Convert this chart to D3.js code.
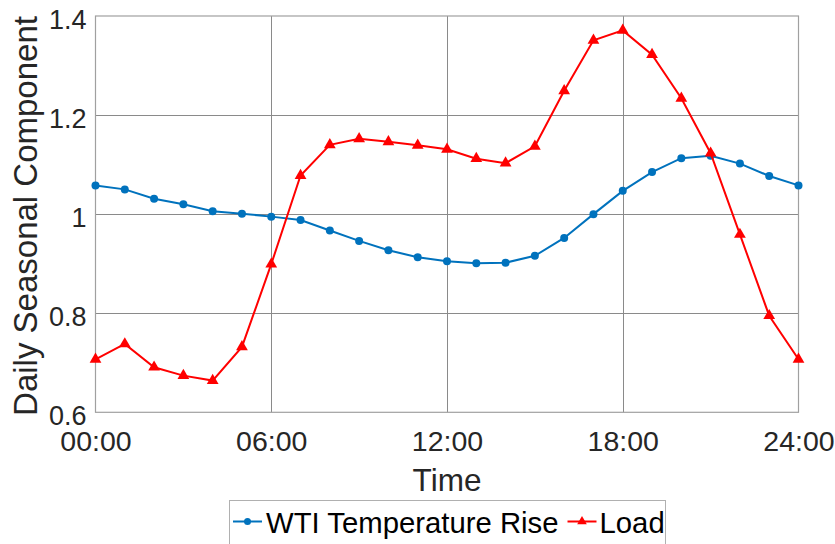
<!DOCTYPE html>
<html>
<head>
<meta charset="utf-8">
<script src="https://cdn.jsdelivr.net/npm/d3@7"></script>
<style>
  html, body { margin: 0; padding: 0; background: #fff; }
  svg { display: block; font-family: "Liberation Sans", Arial, Helvetica, sans-serif; }
</style>
</head>
<body>
<svg id="chart" width="835" height="544"></svg>
<script>
// Hour of day for each sample (0..24)
const hours = d3.range(0, 25);

// Daily seasonal component of the WTI temperature rise
const wtiValues = [1.058, 1.050, 1.031, 1.020, 1.006, 1.001, 0.995, 0.988, 0.967, 0.946,
                   0.927, 0.913, 0.905, 0.901, 0.902, 0.916, 0.952, 1.000, 1.047, 1.085,
                   1.113, 1.118, 1.102, 1.077, 1.058];

// Daily seasonal component of the load
const loadValues = [0.707, 0.738, 0.691, 0.674, 0.664, 0.732, 0.899, 1.078, 1.140, 1.152,
                    1.146, 1.139, 1.131, 1.112, 1.103, 1.137, 1.249, 1.351, 1.371, 1.322,
                    1.234, 1.123, 0.959, 0.795, 0.707];

const xTickValues = [0, 6, 12, 18, 24];
const xTickLabels = ["00:00", "06:00", "12:00", "18:00", "24:00"];
const yTickValues = [0.6, 0.8, 1.0, 1.2, 1.4];
const yTickLabels = ["0.6", "0.8", "1", "1.2", "1.4"];

const seriesNames = ["WTI Temperature Rise", "Load"];
const seriesColors = ["#0072BD", "#FF0000"];

const svg = d3.select("#chart");
const plot = { left: 95.5, right: 798.5, top: 16, bottom: 412.3 };

const x = d3.scaleLinear().domain([0, 24]).range([plot.left, plot.right]);
const y = d3.scaleLinear().domain([0.6, 1.4]).range([plot.bottom, plot.top]);

// Grid lines
const grid = svg.append("g").attr("stroke", "#8a8a8a").attr("stroke-width", 1);
grid.selectAll(".gx").data(xTickValues.slice(1, -1)).enter().append("line")
  .attr("x1", d => Math.round(x(d)) + 0.5).attr("x2", d => Math.round(x(d)) + 0.5)
  .attr("y1", plot.top).attr("y2", plot.bottom);
grid.selectAll(".gy").data(yTickValues.slice(1, -1)).enter().append("line")
  .attr("x1", plot.left).attr("x2", plot.right)
  .attr("y1", d => Math.round(y(d)) + 0.5).attr("y2", d => Math.round(y(d)) + 0.5);

// Axes box
svg.append("rect")
  .attr("x", plot.left).attr("y", plot.top)
  .attr("width", plot.right - plot.left).attr("height", plot.bottom - plot.top)
  .attr("fill", "none").attr("stroke", "#a0a0a0").attr("stroke-width", 1.2);

// X axis tick labels
const xAxis = d3.axisBottom(x).tickValues(xTickValues)
  .tickFormat((d, i) => xTickLabels[i]).tickSize(0).tickPadding(0);
const gx = svg.append("g").attr("transform", `translate(0,${plot.bottom})`).call(xAxis);
gx.select(".domain").remove();
gx.selectAll("text").attr("fill", "#262626").attr("font-size", 28.5)
  .attr("dy", null).attr("y", 38.5);

// Y axis tick labels
const yAxis = d3.axisLeft(y).tickValues(yTickValues)
  .tickFormat((d, i) => yTickLabels[i]).tickSize(0).tickPadding(0);
const gy = svg.append("g").attr("transform", `translate(${plot.left},0)`).call(yAxis);
gy.select(".domain").remove();
gy.selectAll("text").attr("fill", "#262626").attr("font-size", 27)
  .attr("x", -9).attr("dy", "0.45em");

// Axis titles
svg.append("text").attr("x", 447).attr("y", 490.5)
  .attr("text-anchor", "middle").attr("font-size", 31.5).attr("fill", "#262626")
  .text("Time");
svg.append("text").attr("transform", "translate(36.5,216) rotate(-90)")
  .attr("text-anchor", "middle").attr("font-size", 33).attr("fill", "#262626")
  .text("Daily Seasonal Component");

// Series
const line = d3.line().x((d, i) => x(hours[i])).y(d => y(d));
const triangle = d3.symbol().type(d3.symbolTriangle).size(60);

svg.append("path").datum(wtiValues).attr("d", line)
  .attr("fill", "none").attr("stroke", seriesColors[0]).attr("stroke-width", 2);
svg.append("g").selectAll("circle").data(wtiValues).enter().append("circle")
  .attr("cx", (d, i) => x(hours[i])).attr("cy", d => y(d)).attr("r", 4)
  .attr("fill", seriesColors[0]);

svg.append("path").datum(loadValues).attr("d", line)
  .attr("fill", "none").attr("stroke", seriesColors[1]).attr("stroke-width", 2);
svg.append("g").selectAll("path").data(loadValues).enter().append("path")
  .attr("d", triangle)
  .attr("transform", (d, i) => `translate(${x(hours[i])},${y(d)})`)
  .attr("fill", seriesColors[1]);

// Legend
const legend = svg.append("g");
legend.append("rect").attr("x", 229.5).attr("y", 500.5)
  .attr("width", 436).attr("height", 60)
  .attr("fill", "#fff").attr("stroke", "#b0b0b0").attr("stroke-width", 1);

const legendItems = [
  { lx: 233, tx: 266 },
  { lx: 567.5, tx: 599.5 }
];
legendItems.forEach((it, i) => {
  const ly = 521.5;
  legend.append("line").attr("x1", it.lx).attr("x2", it.lx + 29)
    .attr("y1", ly).attr("y2", ly)
    .attr("stroke", seriesColors[i]).attr("stroke-width", 2);
  if (i === 0) {
    legend.append("circle").attr("cx", it.lx + 14.5).attr("cy", ly).attr("r", 3.5)
      .attr("fill", seriesColors[i]);
  } else {
    legend.append("path").attr("d", d3.symbol().type(d3.symbolTriangle).size(40))
      .attr("transform", `translate(${it.lx + 14.5},${ly})`).attr("fill", seriesColors[i]);
  }
  legend.append("text").attr("x", it.tx).attr("y", 533)
    .attr("font-size", 29.3).attr("fill", "#000").text(seriesNames[i]);
});
</script>
</body>
</html>
